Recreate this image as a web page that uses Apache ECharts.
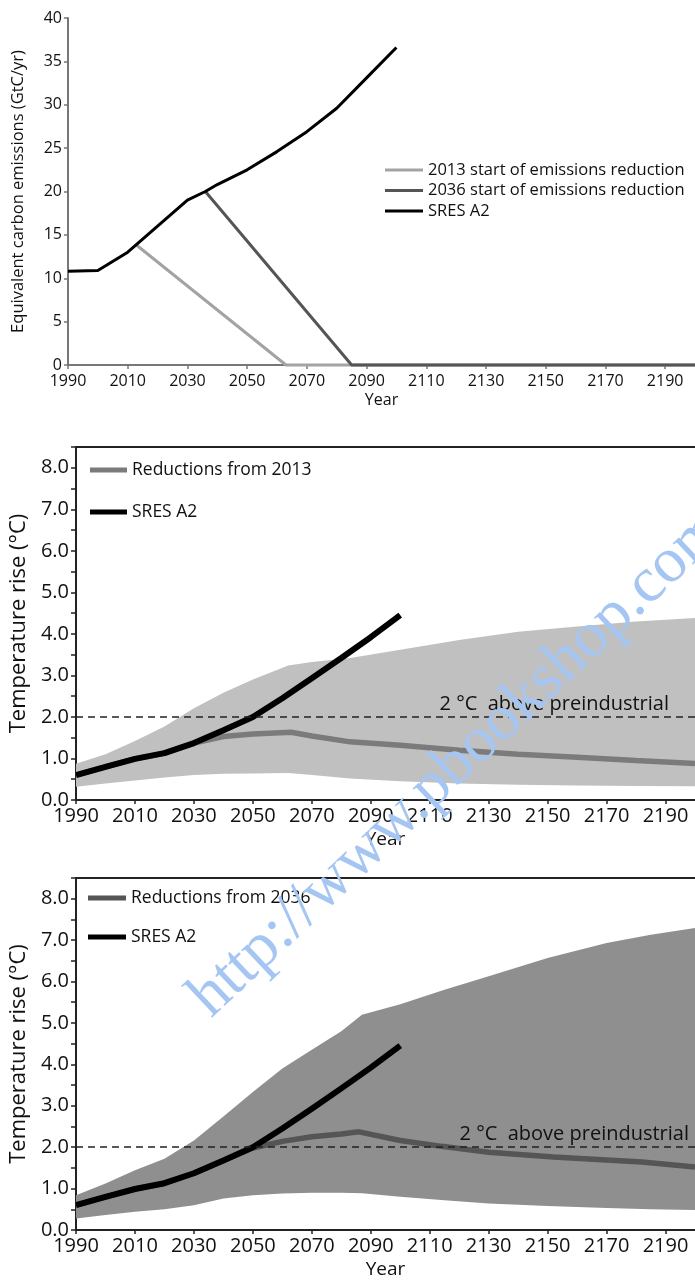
<!DOCTYPE html>
<html><head><meta charset="utf-8">
<script src="https://cdn.jsdelivr.net/npm/echarts@6/dist/echarts.min.js"></script>
<style>html,body{margin:0;padding:0;background:#fff}#c{width:695px;height:1282px}</style>
</head><body><div id="c"></div>
<script>
// ---------- data ----------
const BASE_YEAR = 1990;
const yearTicks = [1990, 2010, 2030, 2050, 2070, 2090, 2110, 2130, 2150, 2170, 2190];
const emissionTicks = [0, 5, 10, 15, 20, 25, 30, 35, 40];
const tempTicks = [0.0, 1.0, 2.0, 3.0, 4.0, 5.0, 6.0, 7.0, 8.0];

// Panel 1: emissions (GtC/yr)
const emA2Years = [1990, 2000, 2010, 2020, 2030, 2036, 2040, 2050, 2060, 2070, 2080, 2090, 2100];
const emA2 = [10.8, 10.9, 13.0, 16.0, 19.0, 20.0, 20.8, 22.5, 24.6, 26.9, 29.6, 33.1, 36.6];
const em2013Years = [2013, 2063, 2200];
const em2013 = [13.8, 0, 0];
const em2036Years = [2036, 2085, 2200];
const em2036 = [20.0, 0, 0];

// Panels 2 & 3: SRES A2 temperature
const tA2Years = [1990, 2000, 2010, 2020, 2030, 2040, 2050, 2060, 2070, 2080, 2090, 2100];
const tA2 = [0.6, 0.8, 0.99, 1.13, 1.37, 1.68, 2.0, 2.45, 2.93, 3.42, 3.92, 4.45];

// Panel 2: reductions from 2013
const red2013Years = [1990, 2000, 2010, 2020, 2030, 2040, 2050, 2063, 2070, 2083, 2100, 2120, 2140, 2160, 2180, 2200];
const red2013 = [0.6, 0.8, 0.99, 1.13, 1.37, 1.53, 1.59, 1.63, 1.54, 1.4, 1.32, 1.2, 1.1, 1.03, 0.95, 0.88];
const band2013Years = [1990, 2000, 2010, 2020, 2030, 2040, 2050, 2062, 2070, 2083, 2100, 2120, 2140, 2160, 2180, 2200];
const band2013Low = [0.32, 0.4, 0.47, 0.54, 0.6, 0.63, 0.64, 0.65, 0.6, 0.52, 0.45, 0.4, 0.37, 0.35, 0.34, 0.33];
const band2013High = [0.87, 1.1, 1.42, 1.77, 2.21, 2.58, 2.9, 3.24, 3.32, 3.42, 3.62, 3.85, 4.05, 4.18, 4.3, 4.38];

// Panel 3: reductions from 2036
const red2036Years = [1990, 2000, 2010, 2020, 2030, 2040, 2050, 2060, 2070, 2080, 2086, 2100, 2114, 2130, 2152, 2182, 2200];
const red2036 = [0.6, 0.8, 0.99, 1.13, 1.37, 1.68, 1.98, 2.14, 2.25, 2.32, 2.37, 2.16, 2.02, 1.88, 1.76, 1.64, 1.52];
const band2036Years = [1990, 2000, 2010, 2020, 2030, 2040, 2050, 2060, 2070, 2080, 2087, 2100, 2115, 2130, 2150, 2170, 2185, 2200];
const band2036Low = [0.28, 0.36, 0.44, 0.5, 0.6, 0.76, 0.84, 0.88, 0.9, 0.9, 0.89, 0.8, 0.72, 0.64, 0.58, 0.53, 0.5, 0.48];
const band2036High = [0.84, 1.12, 1.44, 1.72, 2.16, 2.74, 3.33, 3.9, 4.35, 4.8, 5.2, 5.45, 5.8, 6.13, 6.57, 6.93, 7.13, 7.29];

const thresholdValue = 2.0;
const thresholdText = '2 °C  above preindustrial';
const watermarkText = 'http://www.pbookshop.com';

// ---------- build ----------
const FONT = "'Open Sans', 'Noto Sans', sans-serif";
const pairs = (ys, vs) => ys.map((y, i) => [y - BASE_YEAR, vs[i]]);

function xAxisFor(gi, fs, nfs, nameGap, margin, lineColor, lw) {
  return {
    type: 'value', gridIndex: gi, min: 0, max: 210, interval: 20,
    name: 'Year', nameLocation: 'middle', nameGap: nameGap,
    nameTextStyle: { fontFamily: FONT, fontSize: nfs, color: '#111' },
    axisLine: { show: true, onZero: false, lineStyle: { color: lineColor, width: lw } },
    axisTick: { show: true, length: 4, lineStyle: { color: lineColor, width: 1.5 } },
    axisLabel: { fontFamily: FONT, fontSize: fs, color: '#111', margin: margin, showMaxLabel: false,
      formatter: v => { const y = v + BASE_YEAR; return yearTicks.includes(y) ? String(y) : ''; } },
    splitLine: { show: false }
  };
}
function topLine(gi) {
  return { type: 'value', gridIndex: gi, position: 'top', min: 0, max: 210,
    axisLine: { show: true, onZero: false, lineStyle: { color: '#222', width: 2 } },
    axisTick: { show: false }, axisLabel: { show: false }, splitLine: { show: false } };
}
function tempY(gi) {
  return {
    type: 'value', gridIndex: gi, min: 0, max: 8.5, interval: 1,
    name: 'Temperature rise (°C)', nameLocation: 'middle', nameGap: 44,
    nameTextStyle: { fontFamily: FONT, fontSize: 22, color: '#111' },
    axisLine: { show: true, lineStyle: { color: '#222', width: 2 } },
    axisTick: { show: true, length: 5, lineStyle: { color: '#222', width: 1.5 } },
    minorTick: { show: true, splitNumber: 2, length: 5, lineStyle: { color: '#222', width: 1.5 } },
    axisLabel: { fontFamily: FONT, fontSize: 20, color: '#111', margin: 7, showMaxLabel: false,
      formatter: v => tempTicks.includes(v) ? v.toFixed(1) : '' },
    splitLine: { show: false }
  };
}
function band(name, xi, years, lo, hi, color) {
  const upper = pairs(years, hi);
  const lower = pairs(years, lo).reverse();
  const poly = upper.concat(lower);
  return { name: name, type: 'custom', xAxisIndex: xi, yAxisIndex: xi, silent: true, z: 1, data: poly,
    renderItem: (params, api) => {
      if (params.dataIndex !== 0) return null;
      return { type: 'polygon', shape: { points: poly.map(p => api.coord(p)) }, style: { fill: color } };
    } };
}
function line(name, xi, years, vals, color, width, extra) {
  return Object.assign({ name: name, type: 'line', xAxisIndex: xi, yAxisIndex: xi, data: pairs(years, vals),
    symbol: 'none', showSymbol: false, clip: false, lineStyle: { color: color, width: width, cap: 'butt' },
    itemStyle: { color: color }, z: 3 }, extra || {});
}
function threshold(padRight) {
  return { silent: true, symbol: 'none', animation: false,
    lineStyle: { type: [7, 5], color: '#222', width: 1.5 },
    label: { show: true, position: 'insideEndTop', formatter: thresholdText, fontFamily: FONT, fontSize: 20,
      color: '#111', padding: [0, padRight, 0, 0], distance: 3 },
    data: [{ yAxis: thresholdValue }] };
}

const option = {
  animation: false,
  backgroundColor: '#fff',
  grid: [
    { left: 68, right: 0, top: 18, height: 347 },
    { left: 68, right: 0, top: 447, height: 353 },
    { left: 68, right: 0, top: 878, height: 352 }
  ],
  xAxis: [
    xAxisFor(0, 16, 16, 27, 8, '#777', 2),
    xAxisFor(1, 20, 19, 30, 6, '#222', 2),
    xAxisFor(2, 20, 19, 30, 6, '#222', 2),
    topLine(1), topLine(2)
  ],
  yAxis: [
    { type: 'value', gridIndex: 0, min: 0, max: 40, interval: 5,
      name: 'Equivalent carbon emissions (GtC/yr)', nameLocation: 'middle', nameGap: 41,
      nameTextStyle: { fontFamily: FONT, fontSize: 16.5, color: '#111' },
      axisLine: { show: true, lineStyle: { color: '#777', width: 2 } },
      axisTick: { show: true, length: 4, lineStyle: { color: '#777', width: 1.5 } },
      axisLabel: { fontFamily: FONT, fontSize: 16, color: '#111', margin: 6,
        formatter: v => emissionTicks.includes(v) ? String(v) : '' },
      splitLine: { show: false } },
    tempY(1), tempY(2)
  ],
  legend: [
    { data: ['2013 start of emissions reduction', '2036 start of emissions reduction', 'SRES A2'],
      orient: 'vertical', left: 385, top: 161, itemWidth: 38, itemHeight: 3, itemGap: 2.5, icon: 'rect',
      selectedMode: false, padding: 0, textStyle: { fontFamily: FONT, fontSize: 16.5, lineHeight: 18, color: '#111' } },
    { data: ['Reductions from 2013', 'SRES A2'],
      orient: 'vertical', left: 90, top: 460, itemWidth: 37, itemHeight: 5, itemGap: 22, icon: 'rect',
      selectedMode: false, padding: 0, textStyle: { fontFamily: FONT, fontSize: 17.5, lineHeight: 20, color: '#111' } },
    { data: ['Reductions from 2036', 'SRES A2'],
      orient: 'vertical', left: 88, top: 888, itemWidth: 38, itemHeight: 5, itemGap: 19, icon: 'rect',
      selectedMode: false, padding: 0, textStyle: { fontFamily: FONT, fontSize: 17.5, lineHeight: 20, color: '#111' } }
  ],
  series: [
    line('2013 start of emissions reduction', 0, em2013Years, em2013, '#a3a3a3', 3),
    line('2036 start of emissions reduction', 0, em2036Years, em2036, '#555555', 3),
    line('SRES A2', 0, emA2Years, emA2, '#000000', 3),

    band('band2013', 1, band2013Years, band2013Low, band2013High, '#c0c0c0'),
    line('Reductions from 2013', 1, red2013Years, red2013, '#7b7b7b', 5.5),
    line('SRES A2', 1, tA2Years, tA2, '#000000', 6, { markLine: threshold(23) }),

    band('band2036', 2, band2036Years, band2036Low, band2036High, '#8f8f8f'),
    line('Reductions from 2036', 2, red2036Years, red2036, '#555555', 5.5),
    line('SRES A2', 2, tA2Years, tA2, '#000000', 6, { markLine: threshold(3) })
  ],
  graphic: [
    { type: 'text', x: 458, y: 763, rotation: 43.3 * Math.PI / 180, z: 100, silent: true,
      style: { text: watermarkText, font: "64px 'Liberation Serif', 'DejaVu Serif', serif",
        fill: '#a5c6f2', align: 'center', verticalAlign: 'middle' } }
  ]
};
const chart = echarts.init(document.getElementById('c'), null, { renderer: 'canvas' });
chart.setOption(option);
</script></body></html>
